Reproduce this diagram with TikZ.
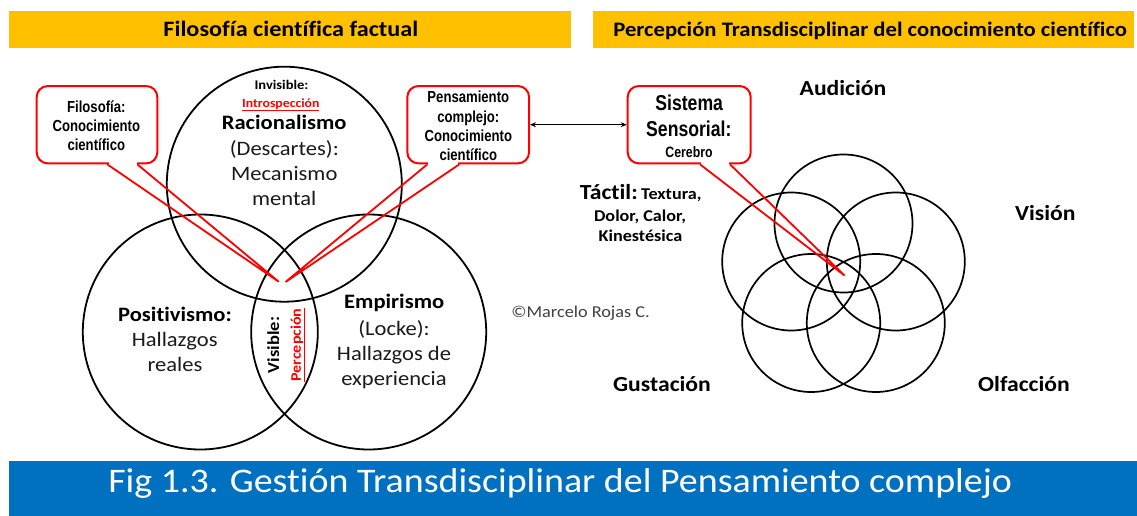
\documentclass[tikz,border=0pt]{standalone}
\usepackage{fontspec}
\setmainfont{Carlito}[FakeStretch=1.1, Ligatures=NoCommon]
\newfontfamily\narrowfont{Liberation Sans}[FakeStretch=0.82]
\newfontfamily\arialfont{Liberation Sans}
\usetikzlibrary{arrows.meta,calc}
\definecolor{hdryellow}{HTML}{FFC000}
\definecolor{barblue}{HTML}{0070C0}
\definecolor{pred}{HTML}{FF0000}
\definecolor{txtdark}{HTML}{1A1A1A}
\definecolor{copygray}{HTML}{404040}
\begin{document}
\begin{tikzpicture}[x=1pt,y=-1pt,
  hdr/.style={fill=hdryellow, draw=none, inner sep=0pt},
  ring/.style={circle, draw=black, line width=1.8pt, minimum size=235pt, inner sep=0pt},
  petal/.style={circle, draw=black, line width=1.7pt, minimum size=138pt, inner sep=0pt},
  callout/.style={draw=pred, line width=2pt, fill=white, rounded corners=11pt, inner sep=0pt, minimum height=77.3pt},
  ptr/.style={draw=pred, line width=1.8pt},
  lbl/.style={anchor=base, inner sep=0pt},
  bigb/.style={font=\bfseries\fontsize{20.5}{24}\selectfont},
  body/.style={font=\fontsize{20.5}{24}\selectfont, text=txtdark},
  cfont/.style={font=\narrowfont\bfseries\fontsize{16}{19}\selectfont},
  sense/.style={font=\bfseries\fontsize{21.5}{24}\selectfont},
  small/.style={font=\bfseries\fontsize{16.5}{20}\selectfont}
]
\useasboundingbox (0,0) rectangle (1137,516);
\fill[white] (0,0) rectangle (1137,516);

% headers
\node[hdr, minimum width=562pt, minimum height=37.5pt] (hl) at (289.7,29.75) {};
\node[hdr, minimum width=541pt, minimum height=37.5pt] (hr) at (863.5,29.75) {};
\node[lbl, font=\bfseries\fontsize{22}{24}\selectfont] (hlt) at (290.8,36.7) {Filosofía científica factual};
\node[lbl, font=\bfseries\fontsize{20.6}{24}\selectfont] (hrt) at (870.2,36.7) {Percepción Transdisciplinar del conocimiento científico};

% bottom bar
\node[fill=barblue, inner sep=0pt, minimum width=1128.3pt, minimum height=55pt] (bar) at (572.85,488.5) {};
\node[lbl, text=white, font=\fontsize{34.5}{40}\selectfont] (bart) at (560.2,492.7) {Fig 1.3. Gestión Transdisciplinar del Pensamiento complejo};

% three circles
\node[ring] (rac) at (284.3,184.2) {};
\node[ring] (pos) at (200.3,332) {};
\node[ring] (emp) at (368.7,332) {};

% top circle texts
\node[lbl, font=\bfseries\fontsize{13.2}{16}\selectfont] (inv) at (281.5,90) {Invisible:};
\node[lbl, text=pred, font=\bfseries\fontsize{12.5}{15}\selectfont] (intro) at (280.8,107.3) {\underline{Introspección}};
\node[lbl, bigb] (racl) at (284.2,130) {Racionalismo};
\node[lbl, body] (desc) at (284.3,155) {(Descartes):};
\node[lbl, body] (mec) at (284.2,180.7) {Mecanismo};
\node[lbl, body] (ment) at (284.2,205.7) {mental};

% positivismo
\node[lbl, bigb] (posl) at (175,321.7) {Positivismo:};
\node[lbl, body] (posh) at (174.7,346.7) {Hallazgos};
\node[lbl, body] (posr) at (175,371.7) {reales};

% empirismo
\node[lbl, bigb] (empl) at (394.2,308.7) {Empirismo};
\node[lbl, body] (empk) at (394,335) {(Locke):};
\node[lbl, body] (emph) at (394,360) {Hallazgos de};
\node[lbl, body] (empe) at (394,385) {experiencia};

% visible / percepcion
\node[rotate=90, inner sep=0pt, font=\bfseries\fontsize{16.8}{20}\selectfont] (vis) at (273.3,345) {Visible:};
\node[rotate=90, inner sep=0pt, text=pred, font=\bfseries\fontsize{14.6}{18}\selectfont] (perc) at (298,345) {\underline{Percepción}};

% copyright
\node[lbl, text=copygray, font=\fontsize{16.6}{20}\selectfont] (copy) at (580.5,317.3) {©Marcelo Rojas C.};

% five sensory circles
\node[petal] (p1) at (843.5,223.5) {};
\node[petal] (p2) at (791.2,261.5) {};
\node[petal] (p3) at (895.8,261.5) {};
\node[petal] (p4) at (811.2,323) {};
\node[petal] (p5) at (875.8,323) {};

% sense labels
\node[lbl, sense] (aud) at (843,95.7) {Audición};
\node[lbl, sense] (vision) at (1045.3,220) {Visión};
\node[lbl, sense] (gus) at (662,391.7) {Gustación};
\node[lbl, sense] (olf) at (1024,391.7) {Olfacción};
\node[lbl] (tac) at (640.7,199.3) {{\bfseries\fontsize{21.5}{24}\selectfont Táctil:} {\bfseries\fontsize{16.5}{20}\selectfont Textura,}};
\node[lbl, small] (dol) at (640,221.7) {Dolor, Calor,};
\node[lbl, small] (kin) at (640.5,241.7) {Kinestésica};

% callout boxes
\node[callout, minimum width=120.6pt] (filo) at (97,124.7) {};
\node[callout, minimum width=121.7pt] (pens) at (468.2,124.7) {};
\node[callout, minimum width=123pt] (sist) at (689.2,124.7) {};

\node[lbl, cfont] (f1) at (96.3,112.3) {Filosofía:};
\node[lbl, cfont] (f2) at (96.3,131.3) {Conocimiento};
\node[lbl, cfont] (f3) at (96.3,150.7) {científico};

\node[lbl, cfont] (c1) at (468.3,102.3) {Pensamiento};
\node[lbl, cfont] (c2) at (468.3,122.3) {complejo:};
\node[lbl, cfont] (c3) at (468.3,141.7) {Conocimiento};
\node[lbl, cfont] (c4) at (468.3,160.7) {científico};

\node[lbl, font=\narrowfont\bfseries\fontsize{21.5}{26}\selectfont] (s1) at (689.2,111) {Sistema};
\node[lbl, font=\narrowfont\bfseries\fontsize{21.5}{26}\selectfont] (s2) at (688.8,136.7) {Sensorial:};
\node[lbl, font=\narrowfont\bfseries\fontsize{15}{18}\selectfont] (s3) at (689,157.3) {Cerebro};

% double arrow
\draw[{Stealth[length=6pt,width=5pt]}-{Stealth[length=6pt,width=5pt]}, line width=0.9pt] (pens.east) -- (sist.west);

% pointers
\coordinate (tipA) at (278.7,281.7);
\coordinate (tipB) at (285.5,282);
\coordinate (tipC) at (844.5,275.5);

\fill[white] ($(filo.south)+(11.5,-3)$) rectangle ($(filo.south)+(39.5,3)$);
\draw[ptr] ($(filo.south)+(10.3,0)$) -- (tipA) -- ($(filo.south)+(40.3,0)$);

\fill[white] ($(pens.south)+(-39.9,-3)$) rectangle ($(pens.south)+(-9.9,3)$);
\draw[ptr] ($(pens.south)+(-40.9,0)$) -- (tipB) -- ($(pens.south)+(-8.9,0)$);

\fill[white] ($(sist.south)+(11.8,-3)$) rectangle ($(sist.south)+(39.8,3)$);
\draw[ptr] ($(sist.south)+(10.8,0)$) -- (tipC) -- ($(sist.south)+(40.8,0)$);
\end{tikzpicture}
\end{document}
